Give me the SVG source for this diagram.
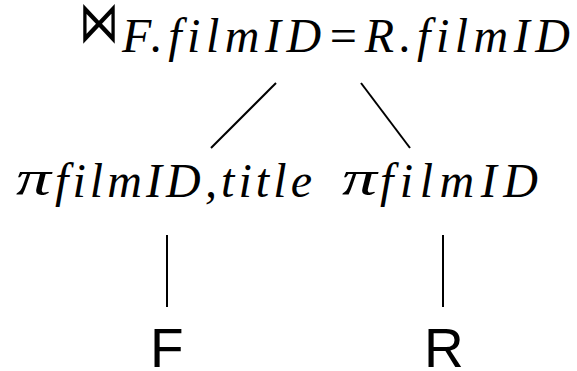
<svg xmlns="http://www.w3.org/2000/svg" width="577" height="371" viewBox="0 0 577 371">
<style>
.m{font-family:"Liberation Serif","DejaVu Serif",serif;font-style:italic;font-size:48px;fill:#000}
.g{font-family:"Liberation Serif","DejaVu Serif",serif;font-style:italic;font-size:50px;fill:#000}
.s{font-family:"DejaVu Sans",sans-serif;font-size:40px;fill:#000}
.r{font-family:"Liberation Sans",Arial,sans-serif;font-size:55px;fill:#000}
.e{stroke:#000;stroke-width:2;fill:none}
</style>
<rect width="577" height="371" fill="#fff"/>
<g id="join">
<text class="s" transform="translate(79,42) scale(1,1.45)">⋈</text>
<text class="m" x="122" y="52" textLength="448" lengthAdjust="spacing">F.filmID=R.filmID</text>
</g>
<g id="projL">
<text class="g" x="16" y="195" textLength="35" lengthAdjust="spacingAndGlyphs">π</text>
<text class="m" x="55" y="197" textLength="257" lengthAdjust="spacing">filmID,title</text>
</g>
<g id="projR">
<text class="g" x="342" y="195" textLength="35" lengthAdjust="spacingAndGlyphs">π</text>
<text class="m" x="380" y="197" textLength="158" lengthAdjust="spacing">filmID</text>
</g>
<g id="F"><text class="r" x="150" y="367">F</text></g>
<g id="R"><text class="r" x="424" y="367">R</text></g>
<g id="edges">
<line class="e" x1="276" y1="83" x2="211" y2="148"/>
<line class="e" x1="361" y1="83" x2="410" y2="148"/>
<line class="e" x1="167" y1="235" x2="167" y2="307"/>
<line class="e" x1="443" y1="235" x2="443" y2="307"/>
</g>
</svg>
